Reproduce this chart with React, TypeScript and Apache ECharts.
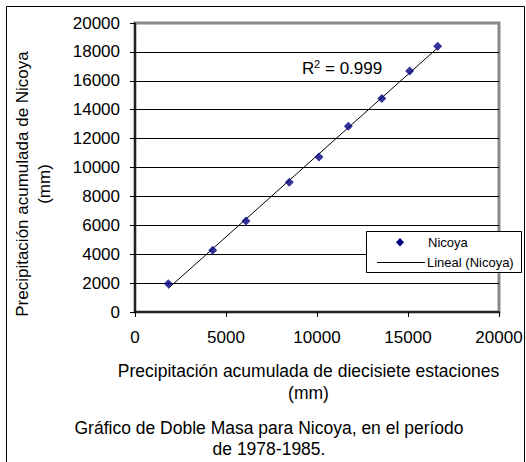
import React, { useEffect, useRef } from "react";
import * as echarts from "echarts";

// Data (cumulative precipitation, mm)
const xValues = [1830, 4270, 6100, 8480, 10110, 11720, 13560, 15090, 16630];
const yValues = [1960, 4270, 6300, 8980, 10730, 12850, 14770, 16680, 18390];

const xAxisMin = 0;
const xAxisMax = 20000;
const xAxisStep = 5000;
const yAxisMin = 0;
const yAxisMax = 20000;
const yAxisStep = 2000;

const seriesName = "Nicoya";
const trendName = "Lineal (Nicoya)";
const r2Value = "0.999";
const yAxisTitle = ["Precipitación acumulada de Nicoya", "(mm)"];
const xAxisTitle = ["Precipitación acumulada de diecisiete estaciones", "(mm)"];
const caption = ["Gráfico de Doble Masa para Nicoya, en el período", "de 1978-1985."];

const FONT = "'Liberation Sans', Arial, Helvetica, sans-serif";
const MARKER_COLOR = "#000080";

function linearFit(xs: number[], ys: number[]) {
  const n = xs.length;
  const mx = xs.reduce((a, b) => a + b, 0) / n;
  const my = ys.reduce((a, b) => a + b, 0) / n;
  let sxy = 0;
  let sxx = 0;
  for (let i = 0; i < n; i++) {
    sxy += (xs[i] - mx) * (ys[i] - my);
    sxx += (xs[i] - mx) * (xs[i] - mx);
  }
  const slope = sxy / sxx;
  const intercept = my - slope * mx;
  return { slope, intercept };
}

function txt(x: number, y: number, text: string, fontSize: number, align: string, extra: any = {}) {
  return {
    type: "text",
    x,
    y,
    silent: true,
    z: 110,
    ...extra,
    style: {
      text,
      fontSize,
      fontFamily: FONT,
      fill: "#000",
      align,
      verticalAlign: "middle",
      textAlign: align,
      textVerticalAlign: "middle",
      ...(extra.style || {}),
    },
  };
}

export default function App() {
  const ref = useRef<HTMLDivElement>(null);

  useEffect(() => {
    if (!ref.current) return;
    const chart = echarts.init(ref.current, null, { renderer: "svg" });

    const points = xValues.map((x, i) => [x, yValues[i]]);
    const fit = linearFit(xValues, yValues);
    const x0 = Math.min(...xValues);
    const x1 = Math.max(...xValues);
    const trend = [
      [x0, fit.intercept + fit.slope * x0],
      [x1, fit.intercept + fit.slope * x1],
    ];

    const plain = (v: number) => String(v);

    const option: any = {
      animation: false,
      backgroundColor: "#fff",
      textStyle: { fontFamily: FONT, color: "#000" },
      grid: {
        left: 135,
        right: 27,
        top: 23,
        bottom: 150,
        show: true,
        backgroundColor: "#fff",
        borderColor: "#888",
        borderWidth: 3,
        containLabel: false,
      },
      xAxis: {
        type: "value",
        min: xAxisMin,
        max: xAxisMax,
        interval: xAxisStep,
        axisLine: { show: true, lineStyle: { color: "#000", width: 1.5 } },
        axisTick: { show: true, length: 5, inside: false, lineStyle: { color: "#000", width: 1 } },
        axisLabel: { fontSize: 17, color: "#000", margin: 17, fontFamily: FONT, formatter: plain },
        splitLine: { show: false },
      },
      yAxis: {
        type: "value",
        min: yAxisMin,
        max: yAxisMax,
        interval: yAxisStep,
        axisLine: { show: true, lineStyle: { color: "#000", width: 1.5 } },
        axisTick: { show: true, length: 5, inside: false, lineStyle: { color: "#000", width: 1 } },
        axisLabel: { fontSize: 17, color: "#000", margin: 15, fontFamily: FONT, formatter: plain },
        splitLine: {
          show: true,
          showMinLine: false,
          showMaxLine: false,
          lineStyle: { color: "#000", width: 1 },
        },
      },
      series: [
        {
          name: trendName,
          type: "line",
          data: trend,
          symbol: "none",
          showSymbol: false,
          silent: true,
          lineStyle: { color: "#000", width: 1 },
          itemStyle: { color: "#000" },
          z: 2,
        },
        {
          name: seriesName,
          type: "scatter",
          data: points,
          symbol: "diamond",
          symbolSize: 9,
          itemStyle: { color: MARKER_COLOR },
          z: 3,
        },
      ],
      graphic: [
        {
          type: "rect",
          silent: true,
          z: 100,
          shape: { x: 6.5, y: 6.5, width: 518, height: 480 },
          style: { fill: "none", stroke: "#000", lineWidth: 1 },
        },
        // legend box
        {
          type: "rect",
          silent: true,
          z: 105,
          shape: { x: 366.5, y: 231.5, width: 155, height: 41 },
          style: { fill: "#fff", stroke: "#000", lineWidth: 1 },
        },
        {
          type: "polygon",
          silent: true,
          z: 110,
          shape: { points: [[400, 238], [404, 242.3], [400, 246.6], [396, 242.3]] },
          style: { fill: MARKER_COLOR },
        },
        {
          type: "line",
          silent: true,
          z: 110,
          shape: { x1: 377, y1: 262.5, x2: 425, y2: 262.5 },
          style: { stroke: "#000", lineWidth: 1 },
        },
        txt(428, 242.5, seriesName, 13, "left"),
        txt(427, 262.5, trendName, 13, "left"),
        // R² annotation
        txt(302, 68, "R", 17, "left"),
        txt(314, 63.5, "2", 11, "left"),
        txt(325, 68, "= " + r2Value, 17, "left"),
        // axis titles and caption
        txt(33, 184, yAxisTitle.join("\n"), 17, "center", {
          rotation: Math.PI / 2,
          style: { lineHeight: 22 },
        }),
        txt(308.5, 382, xAxisTitle.join("\n"), 17.5, "center", { style: { lineHeight: 22 } }),
        txt(269, 438.5, caption.join("\n"), 17.5, "center", { style: { lineHeight: 21 } }),
      ],
    };

    chart.setOption(option);
    return () => {
      chart.dispose();
    };
  }, []);

  return (
    <div
      ref={ref}
      style={{ position: "fixed", left: 0, top: 0, width: 526, height: 462, background: "#fff" }}
    />
  );
}
